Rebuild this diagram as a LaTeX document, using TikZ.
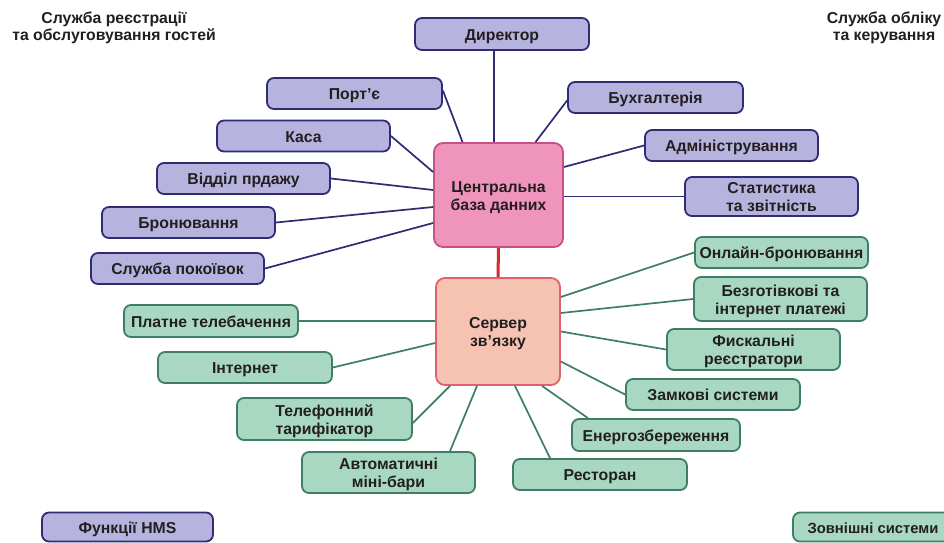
\documentclass[tikz,border=0pt]{standalone}
\usepackage{fontspec}
\setmainfont{Liberation Sans}
\definecolor{pfill}{HTML}{B7B3DF}
\definecolor{pdraw}{HTML}{2F2C73}
\definecolor{gfill}{HTML}{A8D8C2}
\definecolor{gdraw}{HTML}{3F7D67}
\definecolor{cfill}{HTML}{EF95BB}
\definecolor{cdraw}{HTML}{C8508A}
\definecolor{sfill}{HTML}{F6C3B3}
\definecolor{sdraw}{HTML}{E0616E}
\definecolor{redl}{HTML}{D62A2F}
\definecolor{txt}{HTML}{231F20}
\newcommand{\twoline}[1]{\raisebox{0pt}[\height][\dimexpr\depth-5pt\relax]{\begin{tabular}{@{}c@{}}#1\end{tabular}}}
\begin{document}
\begin{tikzpicture}[x=1pt,y=-1pt,
  boxbase/.style={line width=1.8pt, rounded corners=7pt, align=center, text=txt, inner sep=0pt,
    font=\fontsize{15.8}{18}\selectfont\bfseries, minimum width=173pt, minimum height=31pt,
    execute at begin node={\rule{0pt}{17.6pt}}, execute at end node={\rule[-5.4pt]{0pt}{5.4pt}}},
  pbox/.style={boxbase, draw=pdraw, fill=pfill},
  gbox/.style={boxbase, draw=gdraw, fill=gfill},
  cbox/.style={boxbase, draw=cdraw, fill=cfill, rounded corners=9pt},
  sbox/.style={boxbase, draw=sdraw, fill=sfill, rounded corners=9pt},
  pline/.style={draw=pdraw, line width=1.7pt},
  gline/.style={draw=gdraw, line width=1.7pt},
  rline/.style={draw=redl, line width=3pt},
  head/.style={align=center, text=txt, inner sep=0pt, font=\fontsize{15.8}{17}\selectfont\bfseries}
]
\clip (0,0) rectangle (944,542);
\fill[white] (0,0) rectangle (944,542);

% headings
\node[head] (h1) at (114,28) {Служба реєстрації\\та обслуговування гостей};
\node[head] (h2) at (884,28) {Служба обліку\\та керування};

% central nodes
\node[cbox, minimum width=129pt, minimum height=104pt] (cbd) at (498.5,195) {\twoline{Центральна\\база данних}};
\node[sbox, minimum width=124pt, minimum height=107pt] (srv) at (498,331.5) {\twoline{Сервер\\зв’язку}};

% purple boxes
\node[pbox, minimum width=174pt, minimum height=32pt] (dir) at (502,34) {Директор};
\node[pbox, minimum width=175pt] (port) at (354.5,93.5) {Порт’є};
\node[pbox] (kasa) at (303.5,136) {Каса};
\node[pbox] (vid) at (243.5,178.5) {Відділ прдажу};
\node[pbox] (bron) at (188.5,222.5) {Бронювання};
\node[pbox] (pok) at (177.5,268.5) {Служба покоївок};
\node[pbox, minimum width=175pt] (buh) at (655.5,97.5) {Бухгалтерія};
\node[pbox] (adm) at (731.5,145.5) {Адміністрування};
\node[pbox, minimum height=39pt] (stat) at (771.5,196.5) {\twoline{Статистика\\та звітність}};

% green boxes
\node[gbox] (onl) at (781.5,252.5) {Онлайн-бронювання};
\node[gbox, minimum height=44pt] (bez) at (780.5,299) {\twoline{Безготівкові та\\інтернет платежі}};
\node[gbox, minimum height=41pt] (fis) at (753.5,349.5) {\twoline{Фискальні\\реєстратори}};
\node[gbox, minimum width=174pt] (zam) at (713,394.5) {Замкові системи};
\node[gbox, minimum width=168pt, minimum height=32pt] (ene) at (656,435) {Енергозбереження};
\node[gbox, minimum width=174pt] (res) at (600,474.5) {Ресторан};
\node[gbox, minimum height=41pt] (avt) at (388.5,472.5) {\twoline{Автоматичні\\міні-бари}};
\node[gbox, minimum width=175pt, minimum height=42pt] (tel) at (324.5,419) {\twoline{Телефонний\\тарифікатор}};
\node[gbox, minimum width=174pt, minimum height=32pt] (pla) at (211,321) {Платне телебачення};
\node[gbox, minimum width=174pt] (int) at (245,367.5) {Інтернет};

% bottom legend boxes
\node[pbox, minimum width=171pt, minimum height=29pt] (hms) at (127.5,527) {Функції HMS};
\node[gbox, minimum width=160pt, minimum height=29pt, font=\fontsize{14.8}{18}\selectfont\bfseries] (zov) at (873,527) {Зовнішні системи};

% purple connectors
\draw[pline] ([xshift=-8pt]dir.south) -- ([xshift=-4.5pt]cbd.north);
\draw[pline] ([yshift=3pt]port.east) -- ([xshift=-36pt]cbd.north);
\draw[pline] (kasa.east) -- ([yshift=23pt]cbd.west);
\draw[pline] (vid.east) -- ([yshift=5pt]cbd.west);
\draw[pline] (bron.east) -- ([yshift=-12pt]cbd.west);
\draw[pline] (pok.east) -- ([yshift=-28pt]cbd.west);
\draw[pline] ([yshift=-3pt]buh.west) -- ([xshift=37pt]cbd.north);
\draw[pline] (adm.west) -- ([yshift=28pt]cbd.east);
\draw[pline] (stat.west) -- (stat.west -| cbd.east);

% red connector
\draw[rline] (cbd.south) -- (srv.north);

% green connectors
\draw[gline] (onl.west) -- ([yshift=34.5pt]srv.east);
\draw[gline] (bez.west) -- ([yshift=18.5pt]srv.east);
\draw[gline] (fis.west) -- (srv.east);
\draw[gline] (zam.west) -- ([yshift=-30pt]srv.east);
\draw[gline] ([xshift=-68pt]ene.north) -- ([xshift=44pt]srv.south);
\draw[gline] ([xshift=-50pt]res.north) -- ([xshift=17pt]srv.south);
\draw[gline] ([xshift=61.5pt]avt.north) -- ([xshift=-21pt]srv.south);
\draw[gline] ([yshift=-4pt]tel.east) -- ([xshift=-48pt]srv.south);
\draw[gline] (pla.east) -- (pla.east -| srv.west);
\draw[gline] (int.east) -- ([yshift=-11.5pt]srv.west);
\end{tikzpicture}
\end{document}
